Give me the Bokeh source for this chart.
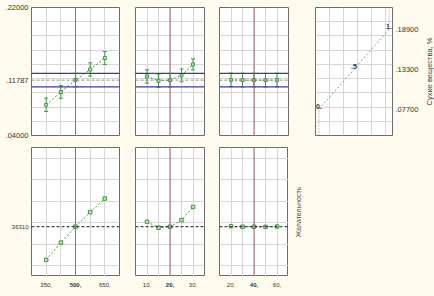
from bokeh.plotting import figure
from bokeh.layouts import row, column
from bokeh.models import (Range1d, FixedTicker, LinearAxis, Span, Whisker, TeeHead,
                          ColumnDataSource, GlobalInlineStyleSheet)
from bokeh.core.properties import value
from bokeh.embed import file_html
from bokeh.resources import INLINE

# ---------------- data ----------------
levels_1 = [350, 425, 500, 575, 650]
levels_2 = [10, 15, 20, 25, 30]
levels_3 = [20, 30, 40, 50, 60]
current_levels = [500, 20, 40]

x_ticks_1 = [350, 500, 650]
x_ticks_2 = [10, 20, 30]
x_ticks_3 = [20, 40, 60]
x_labels_1 = ["350,", "500,", "650,"]
x_labels_2 = ["10,", "20,", "30,"]
x_labels_3 = ["20,", "40,", "60,"]

# predicted response (Сухие вещества, %) and confidence half-widths
pred_1 = [0.0832, 0.1012, 0.11787, 0.1328, 0.1490]
err_1 = [0.0094, 0.0089, 0.0096, 0.0094, 0.0091]
pred_2 = [0.1230, 0.1170, 0.11787, 0.1245, 0.1400]
err_2 = [0.0094, 0.0092, 0.0096, 0.0090, 0.0078]
pred_3 = [0.1182, 0.1179, 0.11787, 0.1178, 0.1180]
err_3 = [0.0095, 0.0095, 0.0096, 0.0095, 0.0095]

# desirability
des_1 = [0.055, 0.215, 0.3631, 0.498, 0.625]
des_2 = [0.409, 0.354, 0.3631, 0.424, 0.547]
des_3 = [0.368, 0.363, 0.3631, 0.362, 0.365]

current_pred = 0.11787
current_ci = 0.0096
current_des = 0.3631

resp_y_ticks = [0.04, 0.11787, 0.22]
resp_y_labels = [".04000", ".11787", ".22000"]
des_y_ticks = [0.3631]
des_y_labels = [".36310"]

# desirability function
dfun_des = [0.0, 0.5, 1.0]
dfun_resp = [0.077, 0.133, 0.189]
dfun_text = ["0.", ".5", "1."]
dfun_labels = [".07700", ".13300", ".18900"]

resp_title = "Сухие вещества, %"
des_title = "Желательность"

# ---------------- style ----------------
BG = "#fffbee"
FONT = "Liberation Sans"
GREEN = "#3f9a3f"
RED = "#b0606c"
BLUE = "#3a3a9c"
GRID = "#d6d6d6"

resp_range = (0.04, 0.22)
resp_grid = [0.06, 0.08, 0.10, 0.12, 0.14, 0.16, 0.18, 0.20]
des_range = (-0.1, 1.1)
des_grid = [0.0, 0.2, 0.4, 0.6, 0.8, 1.0]
x_ranges = [(275, 725), (5, 35), (10, 70)]
dfun_range = (-0.05, 1.05)
dfun_grid = [0.15, 0.35, 0.55, 0.75, 0.95]


def make_panel(xr, yr, fw, fh, bl, br, bt, bb, xgrid, ygrid):
    p = figure(frame_width=fw, frame_height=fh, x_range=xr, y_range=Range1d(*yr),
               x_axis_location=None, y_axis_location=None, toolbar_location=None,
               output_backend="svg", min_border_left=bl, min_border_right=br,
               min_border_top=bt, min_border_bottom=bb)
    p.background_fill_color = "white"
    p.border_fill_color = BG
    p.outline_line_color = "#6c6c6c"
    p.outline_line_width = 1
    p.xgrid.ticker = FixedTicker(ticks=xgrid)
    p.ygrid.ticker = FixedTicker(ticks=ygrid)
    p.grid.grid_line_color = GRID
    p.grid.grid_line_width = 1
    return p


def style_axis(ax, fs):
    ax.axis_line_color = None
    ax.major_tick_line_color = None
    ax.minor_tick_line_color = None
    ax.major_tick_out = 0
    ax.major_tick_in = 0
    ax.major_label_text_font_size = fs
    ax.major_label_text_font = FONT
    ax.major_label_text_color = "#333333"
    ax.major_label_standoff = 3
    ax.axis_label_text_font = FONT
    ax.axis_label_text_font_style = "normal"
    ax.axis_label_text_font_size = "7px"
    ax.axis_label_text_color = "#444444"


def label_spacer(title, fh, bl, bt, bb, fs):
    # blank strip whose left axis carries a rotated (bottom-to-top) title
    s = figure(frame_width=4, frame_height=fh, x_range=Range1d(0, 1), y_range=Range1d(0, 1),
               x_axis_location=None, y_axis_location=None, toolbar_location=None,
               output_backend="svg", min_border_left=bl, min_border_right=0,
               min_border_top=bt, min_border_bottom=bb)
    s.background_fill_color = BG
    s.border_fill_color = BG
    s.outline_line_color = None
    s.grid.visible = False
    a = LinearAxis(ticker=FixedTicker(ticks=[]), axis_label=title)
    style_axis(a, "6px")
    a.major_label_standoff = 0
    a.axis_label_standoff = 0
    a.axis_label_text_font_size = fs
    s.add_layout(a, "left")
    return s


levels = [levels_1, levels_2, levels_3]
preds = [pred_1, pred_2, pred_3]
errs = [err_1, err_2, err_3]
dess = [des_1, des_2, des_3]
xticks = [x_ticks_1, x_ticks_2, x_ticks_3]
xlabels = [x_labels_1, x_labels_2, x_labels_3]
frame_w = [88, 69, 69]
left_b = [31, 0, 0]
right_b = [16, 15, 27]

top_row = []
bottom_row = []
strip_row = []
for i in range(3):
    lv = levels[i]
    cur = current_levels[i]
    xr = Range1d(*x_ranges[i])
    # ---------- top (response) ----------
    p = make_panel(xr, resp_range, frame_w[i], 128, left_b[i], right_b[i], 7, 12,
                   lv, resp_grid)
    p.add_layout(Span(location=current_pred, dimension="width", line_color="#8c8c8c",
                      line_width=1, line_dash="3 2"))
    p.add_layout(Span(location=current_pred - current_ci, dimension="width",
                      line_color=BLUE, line_width=1.2))
    p.add_layout(Span(location=current_pred + current_ci, dimension="width",
                      line_color=BLUE, line_width=1.2))
    p.add_layout(Span(location=cur, dimension="height", line_color=RED, line_width=1))
    src = ColumnDataSource(dict(x=lv, y=preds[i],
                                lo=[a - b for a, b in zip(preds[i], errs[i])],
                                hi=[a + b for a, b in zip(preds[i], errs[i])]))
    p.line("x", "y", source=src, line_color=GREEN, line_width=1, line_dash="2 2")
    p.add_layout(Whisker(base="x", lower="lo", upper="hi", source=src,
                         line_color=GREEN, line_width=1,
                         lower_head=TeeHead(size=4, line_color=GREEN, line_width=1),
                         upper_head=TeeHead(size=4, line_color=GREEN, line_width=1)))
    p.scatter("x", "y", source=src, marker="square", size=3, line_color=GREEN,
              fill_color="#bfe0bf", line_width=1)
    if i == 0:
        ax = LinearAxis(ticker=FixedTicker(ticks=resp_y_ticks),
                        major_label_overrides={t: l for t, l in zip(resp_y_ticks, resp_y_labels)})
        style_axis(ax, "7.5px")
        p.add_layout(ax, "left")
    top_row.append(p)

    # ---------- bottom (desirability) ----------
    q = make_panel(xr, des_range, frame_w[i], 129, left_b[i],
                   right_b[i] if i < 2 else 0, 0, 0, lv, des_grid)
    q.add_layout(Span(location=current_des, dimension="width", line_color="#1a1a1a",
                      line_width=1, line_dash="3 2"))
    q.add_layout(Span(location=cur, dimension="height", line_color=RED, line_width=1))
    srcd = ColumnDataSource(dict(x=lv, y=dess[i]))
    q.line("x", "y", source=srcd, line_color=GREEN, line_width=1, line_dash="2 2")
    q.scatter("x", "y", source=srcd, marker="square", size=3.5, line_color=GREEN,
              fill_color="#bfe0bf", line_width=1)
    if i == 0:
        ya = LinearAxis(ticker=FixedTicker(ticks=des_y_ticks),
                        major_label_overrides={t: l for t, l in zip(des_y_ticks, des_y_labels)})
        style_axis(ya, "6px")
        q.add_layout(ya, "left")
    bottom_row.append(q)

    # ---------- x tick-label strip (current level in bold) ----------
    s = figure(frame_width=frame_w[i], frame_height=20, x_range=xr, y_range=Range1d(0, 1),
               x_axis_location=None, y_axis_location=None, toolbar_location=None,
               output_backend="svg", min_border_left=left_b[i], min_border_right=right_b[i],
               min_border_top=0, min_border_bottom=0)
    s.background_fill_color = BG
    s.border_fill_color = BG
    s.outline_line_color = None
    s.grid.visible = False
    ssrc = ColumnDataSource(dict(x=xticks[i], y=[0.6] * len(xticks[i]), t=xlabels[i],
                                 st=["bold" if t == cur else "normal" for t in xticks[i]]))
    s.text("x", "y", text="t", source=ssrc, text_align="center", text_baseline="middle",
           text_font=value(FONT), text_font_size="6px", text_font_style="st",
           text_color="#333333")
    strip_row.append(s)

bottom_row.append(label_spacer(des_title, 129, 13, 0, 0, "7px"))

# ---------- desirability function panel ----------
f = make_panel(Range1d(*dfun_range), resp_range, 77, 128, 0, 26, 7, 12, dfun_grid, resp_grid)
f.line([dfun_des[0], dfun_des[0]], [resp_range[0], dfun_resp[0]], line_color="#8a8a8a",
       line_width=1, line_dash="1 2")
f.line([dfun_des[-1], dfun_des[-1]], [dfun_resp[-1], resp_range[1]], line_color="#8a8a8a",
       line_width=1, line_dash="1 2")
f.line(dfun_des, dfun_resp, line_color="#6fa9ad", line_width=1, line_dash="2 2")
f.text(dfun_des, dfun_resp, text=dfun_text, text_align="center", text_baseline="middle",
       y_offset=-3, text_font=value(FONT), text_font_size="7px", text_color="#333333",
       text_font_style="bold")
fa = LinearAxis(ticker=FixedTicker(ticks=dfun_resp),
                major_label_overrides={t: l for t, l in zip(dfun_resp, dfun_labels)})
style_axis(fa, "7.5px")
fa.major_label_standoff = 3
f.add_layout(fa, "right")
top_row.append(f)
top_row.append(label_spacer(resp_title, 128, 11, 7, 12, "7.5px"))

layout = column(row(*top_row, spacing=0), row(*bottom_row, spacing=0),
                row(*strip_row, spacing=0), spacing=0,
                stylesheets=[GlobalInlineStyleSheet(css="html, body { background-color: #fffbee; }")])

open("out.html", "w").write(file_html(layout, INLINE))
